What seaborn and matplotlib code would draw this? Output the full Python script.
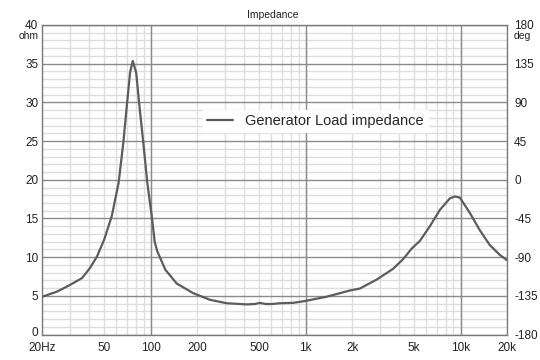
import numpy as np
import pandas as pd
import matplotlib
matplotlib.use("Agg")
import matplotlib.pyplot as plt
import matplotlib.transforms as mtransforms
from matplotlib.ticker import FixedLocator, NullFormatter
import seaborn as sns

# valores
freq = [20, 24.8, 30, 36, 40.5, 45, 50, 56, 62, 66.5, 70, 73.5, 76.5, 80.5, 84.5,
        89.5, 95, 101.5, 106, 110, 124, 147, 188, 241, 309, 416, 470, 506, 550,
        605, 682, 830, 1000, 1370, 1700, 1935, 2240, 2870, 3670, 4260, 4830, 5460,
        6340, 7350, 8530, 9190, 9900, 11500, 13300, 15400, 17900, 20000]
impedancia = [4.9, 5.55, 6.4, 7.3, 8.6, 10.1, 12.25, 15.3, 19.6, 24.8, 29.5, 33.85,
              35.35, 33.85, 29.5, 24.8, 19.6, 15.3, 12.0, 10.8, 8.4, 6.6, 5.35, 4.5,
              4.05, 3.9, 3.95, 4.1, 3.95, 3.95, 4.05, 4.1, 4.35, 4.9, 5.4, 5.7, 5.95,
              7.1, 8.5, 9.75, 11.1, 12.1, 14.0, 16.1, 17.6, 17.85, 17.7, 15.7, 13.5,
              11.6, 10.3, 9.6]

xticks = [20, 50, 100, 200, 500, 1000, 2000, 5000, 10000, 20000]
xlabels = ['20Hz', '50', '100', '200', '500', '1k', '2k', '5k', '10k', '20k']
deg_ticks = [-180, -135, -90, -45, 0, 45, 90, 135, 180]

dados = pd.DataFrame({'freq': freq, 'imp': impedancia})

sns.set_style("white")
plt.rcParams['font.family'] = ['Liberation Sans', 'DejaVu Sans']
plt.rcParams['axes.unicode_minus'] = False

fig = plt.figure(figsize=(5.4, 3.6), dpi=100)
ax = fig.add_axes([0.0787, 0.0706, 0.8605, 0.86])

sns.lineplot(x='freq', y='imp', data=dados, ax=ax, color='#5c5c5c', linewidth=1.6,
             label='Generator Load impedance', zorder=5)

ax.set_xscale('log')
ax.set_xlim(20, 20000)
ax.set_ylim(0, 40)

# grade principal e secundária
minor_x = [f * d for d in (10, 100, 1000) for f in range(2, 10)] + [20000]
ax.xaxis.set_minor_locator(FixedLocator([m for m in minor_x if 20 <= m <= 20000]))
ax.xaxis.set_major_locator(FixedLocator(xticks))
ax.set_xticklabels(xlabels)
ax.xaxis.set_minor_formatter(NullFormatter())
ax.set_yticks(range(0, 41, 5))
ax.set_yticks(range(0, 41, 1), minor=True)

ax.grid(which='minor', color='#dedede', linewidth=1.0)
ax.grid(which='major', axis='y', color='#8a8a8a', linewidth=1.0)
ax.grid(which='major', axis='x', color='#dedede', linewidth=1.0)
for f in (100, 1000, 10000):
    ax.axvline(f, color='#8a8a8a', linewidth=1.0, zorder=1)
ax.set_axisbelow(True)

for s in ax.spines.values():
    s.set_color('#7a7a7a')
    s.set_linewidth(1.0)

ax.tick_params(which='both', length=0, labelsize=8.5, colors='#222222')
ax.tick_params(axis='y', pad=3)
ax.tick_params(axis='x', pad=5)
ax.set_xlabel('')
ax.set_ylabel('')

# sobe um pouco o "0" para não encostar no "20Hz"
lbl0 = ax.get_yticklabels()[0]
lbl0.set_transform(lbl0.get_transform() +
                   mtransforms.ScaledTranslation(0, 2.5 / 72, fig.dpi_scale_trans))

ax2 = ax.twinx()
ax2.set_ylim(-180, 180)
ax2.set_yticks(deg_ticks)
ax2.tick_params(length=0, labelsize=8.5, colors='#222222', pad=5)
for s in ax2.spines.values():
    s.set_visible(False)

fig.text(0.0787 - 0.008, 0.9, 'ohm', ha='right', va='center', fontsize=7.5, color='#222222')
fig.text(0.952, 0.9, 'deg', ha='left', va='center', fontsize=7.5, color='#222222')
fig.text(0.505, 0.958, 'Impedance', ha='center', va='center', fontsize=7.5, color='#222222')

leg = ax.legend(loc='center', bbox_to_anchor=(0.587, 0.69), frameon=True,
                fontsize=10.5, handlelength=1.8, borderpad=0.3, fancybox=False)
leg.get_frame().set_facecolor('white')
leg.get_frame().set_edgecolor('white')
leg.get_frame().set_alpha(1)

fig.savefig('out.png', dpi=100)
plt.close()
